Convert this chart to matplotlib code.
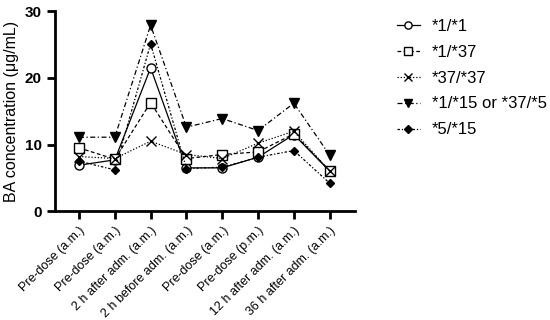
import matplotlib.pyplot as plt

plt.rcParams['font.family'] = ['Liberation Sans', 'DejaVu Sans']

timepoints = ['Pre-dose (a.m.)', 'Pre-dose (a.m.)', '2 h after adm. (a.m.)',
              '2 h before adm. (a.m.)', 'Pre-dose (a.m.)', 'Pre-dose (p.m.)',
              '12 h after adm. (a.m.)', '36 h after adm. (a.m.)']

g_1_1 = [6.9, 7.7, 21.5, 6.5, 6.5, 8.1, 11.5, 6.0]
g_1_37 = [9.5, 7.8, 16.3, 7.9, 8.5, 8.9, 11.6, 6.1]
g_37_37 = [8.2, 7.9, 10.5, 8.5, 7.9, 10.2, 12.0, 6.0]
g_1_15 = [11.1, 11.1, 27.9, 12.6, 13.9, 12.1, 16.2, 8.4]
g_5_15 = [7.5, 6.2, 25.1, 6.4, 6.6, 8.1, 9.1, 4.2]

series = [
    ('*1/*1', g_1_1, dict(ls='-', marker='o', mfc='white', ms=6.5)),
    ('*1/*37', g_1_37, dict(ls=(0, (3, 2)), marker='s', mfc='white', ms=6.5)),
    ('*37/*37', g_37_37, dict(ls=(0, (1, 1.5)), marker='x', ms=6.5, mew=1)),
    ('*1/*15 or *37/*5', g_1_15, dict(ls=(0, (4, 2, 1, 2)), marker='v', ms=6.5)),
    ('*5/*15', g_5_15, dict(ls=(0, (2, 1.5, 1, 1.5)), marker='D', ms=4.5)),
]

fig = plt.figure(figsize=(5.5, 3.2), dpi=100)
ax = fig.add_axes([0.1, 0.34, 0.545, 0.625])

x = list(range(len(timepoints)))
for name, vals, style in series:
    ax.plot(x, vals, color='black', lw=0.9, mec='black', label=name, **style)

ax.set_xlim(-0.67, 7.7)
ax.set_ylim(0, 30)
ax.set_yticks([0, 10, 20, 30])
ax.set_xticks(x)
ax.set_xticklabels(timepoints, rotation=45, ha='right', rotation_mode='anchor', fontsize=9)
for lab in ax.get_yticklabels():
    lab.set_fontweight('bold')
    lab.set_fontsize(11)
ax.set_ylabel('BA concentration (μg/mL)', fontsize=11.5, labelpad=4)

for side in ['top', 'right']:
    ax.spines[side].set_visible(False)
for side in ['left', 'bottom']:
    ax.spines[side].set_linewidth(2)
ax.tick_params(width=2, length=6)

ax.legend(loc='upper left', bbox_to_anchor=(397 / 550, 1 - 19 / 320),
          bbox_transform=fig.transFigure, frameon=False, fontsize=12,
          handlelength=1.35, handletextpad=0.75, labelspacing=0.65,
          borderpad=0, borderaxespad=0, markerscale=0.8)

fig.savefig('out.png')
